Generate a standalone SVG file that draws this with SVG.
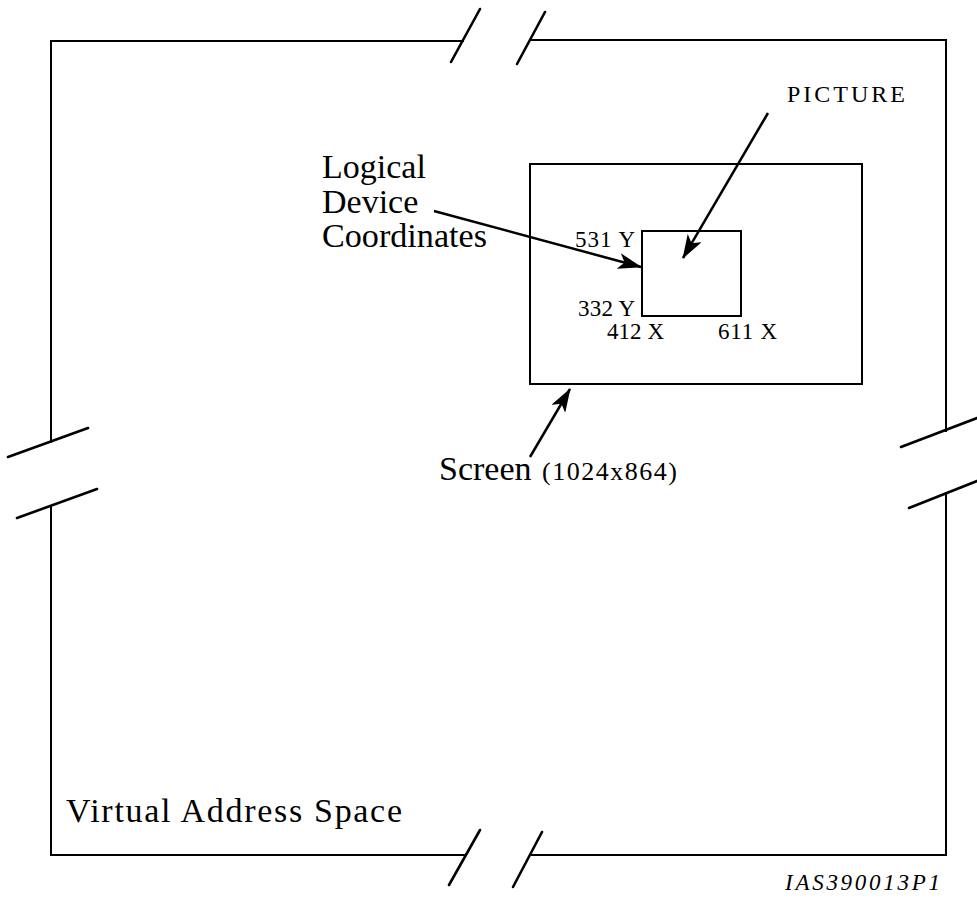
<svg xmlns="http://www.w3.org/2000/svg" width="977" height="900" viewBox="0 0 977 900">
<style>
.ln{fill:none;stroke:#000;stroke-width:2;stroke-linecap:square}
.sl{fill:none;stroke:#000;stroke-width:2.6;stroke-linecap:round}
.bx{fill:none;stroke:#000;stroke-width:2}
.ar{fill:none;stroke:#000;stroke-width:2.5}
.big{font-family:"Liberation Serif","Times New Roman",serif;font-size:34px;fill:#000}
.sm{font-family:"Liberation Serif","Times New Roman",serif;font-size:23px;fill:#000}
.pic{font-family:"Liberation Serif","Times New Roman",serif;font-size:24px;fill:#000}
.mid{font-family:"Liberation Serif","Times New Roman",serif;font-size:26px;fill:#000}
.id{font-family:"Liberation Serif","Times New Roman",serif;font-size:23px;font-style:italic;fill:#000}
</style>
<defs>
<marker id="ah" viewBox="0 0 24 16" refX="23" refY="8" markerWidth="24" markerHeight="16" markerUnits="userSpaceOnUse" orient="auto">
<path d="M0,0 L24,8 L0,16 L6,8 z" fill="#000"/>
</marker>
</defs>
<rect width="977" height="900" fill="#fff"/>
<g id="virtual-address-space">
<path class="ln" d="M51,41 H463 M530,40 H946 V431 M946,495 V855 H532 M464,855 H51 V506 M51,442 V41"/>
<path class="sl" d="M451,62 L480,9 M517,64 L545,12 M449,885 L480,830 M513,887 L542,832 M8,457 L88,428 M17,518 L97,489 M901,447 L977,418 M909,508 L977,481"/>
<text class="big" x="66" y="822" font-size="35" textLength="336" lengthAdjust="spacing">Virtual Address Space</text>
</g>
<g id="screen">
<rect class="bx" x="530" y="164" width="332" height="220"/>
<text class="big" x="439" y="480">Screen</text>
<text class="mid" x="542" y="480" textLength="135" lengthAdjust="spacing">(1024x864)</text>
</g>
<g id="picture">
<rect class="bx" x="642" y="231" width="99" height="85"/>
<text class="pic" x="787" y="102" textLength="118" lengthAdjust="spacing">PICTURE</text>
<text class="sm" x="575" y="247" textLength="60" lengthAdjust="spacing">531 Y</text>
<text class="sm" x="578" y="316" textLength="57" lengthAdjust="spacing">332 Y</text>
<text class="sm" x="607" y="339" textLength="57" lengthAdjust="spacing">412 X</text>
<text class="sm" x="718" y="339" textLength="59" lengthAdjust="spacing">611 X</text>
</g>
<g id="logical-device-coordinates">
<text class="big" x="322" y="178">Logical</text>
<text class="big" x="322" y="213">Device</text>
<text class="big" x="322" y="247" textLength="165" lengthAdjust="spacingAndGlyphs">Coordinates</text>
</g>
<g id="connectors">
<path class="ar" d="M434,211 L641,267" marker-end="url(#ah)"/>
<path class="ar" d="M768,113 L683,258" marker-end="url(#ah)"/>
<path class="ar" d="M530,457 L570,389" marker-end="url(#ah)"/>
</g>
<text class="id" x="785" y="890" textLength="155" lengthAdjust="spacing">IAS390013P1</text>
</svg>
